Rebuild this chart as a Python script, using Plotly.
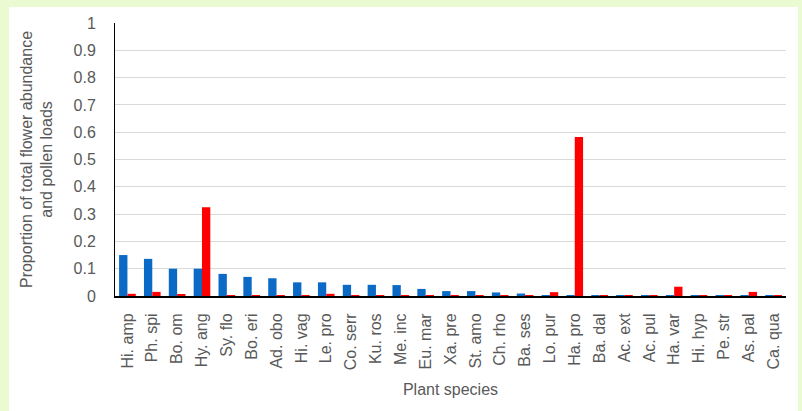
import plotly.graph_objects as go

species = ["Hi. amp", "Ph. spi", "Bo. om", "Hy. ang", "Sy. flo", "Bo. eri", "Ad. obo",
           "Hi. vag", "Le. pro", "Co. serr", "Ku. ros", "Me. inc", "Eu. mar", "Xa. pre",
           "St. amo", "Ch. rho", "Ba. ses", "Lo. pur", "Ha. pro", "Ba. dal", "Ac. ext",
           "Ac. pul", "Ha. var", "Hi. hyp", "Pe. str", "As. pal", "Ca. qua"]

flower_abundance = [0.150, 0.136, 0.100, 0.100, 0.081, 0.070, 0.065, 0.050, 0.050, 0.041,
                    0.041, 0.040, 0.026, 0.018, 0.018, 0.013, 0.009, 0.003, 0.003, 0.003,
                    0.002, 0.002, 0.002, 0.002, 0.002, 0.002, 0.002]

pollen_loads = [0.008, 0.015, 0.004, 0.325, 0.001, 0.001, 0.003, 0.001, 0.008, 0.002,
                0.001, 0.002, 0.002, 0.003, 0.002, 0.003, 0.001, 0.014, 0.582, 0.001,
                0.002, 0.003, 0.034, 0.002, 0.003, 0.015, 0.003]

yticks = [0, 0.1, 0.2, 0.3, 0.4, 0.5, 0.6, 0.7, 0.8, 0.9, 1]
ytick_text = ["0", "0.1", "0.2", "0.3", "0.4", "0.5", "0.6", "0.7", "0.8", "0.9", "1"]

fig = go.Figure()
fig.add_trace(go.Bar(x=species, y=flower_abundance, name="Flower abundance",
                     marker=dict(color="#0a6ac6", line=dict(width=0))))
fig.add_trace(go.Bar(x=species, y=pollen_loads, name="Pollen loads",
                     marker=dict(color="#ff0000", line=dict(width=0))))

W, H = 802, 411
L, R, T, B = 115, 16, 23, 115
pw, ph = W - L - R, H - T - B

def px(x):
    return (x - L) / pw

def py(y):
    return (H - B - y) / ph

green = "#eafbd2"
shapes = [
    dict(type="rect", xref="paper", yref="paper", x0=px(0), x1=px(9), y0=py(411), y1=py(0),
         fillcolor=green, line=dict(width=0), layer="below"),
    dict(type="rect", xref="paper", yref="paper", x0=px(0), x1=px(802), y0=py(7), y1=py(0),
         fillcolor=green, line=dict(width=0), layer="below"),
    dict(type="rect", xref="paper", yref="paper", x0=px(798), x1=px(802), y0=py(411), y1=py(0),
         fillcolor=green, line=dict(width=0), layer="below"),
]

font_family = "Liberation Sans, Arial, sans-serif"
fig.update_layout(
    width=W, height=H,
    margin=dict(l=L, r=R, t=T, b=B, pad=0),
    paper_bgcolor="white", plot_bgcolor="white",
    barmode="group", bargap=0.33, bargroupgap=0,
    showlegend=False,
    shapes=shapes,
    font=dict(family=font_family, color="#595959", size=16),
    xaxis=dict(
        tickangle=-90, tickfont=dict(size=16, color="#595959"),
        showline=True, linecolor="black", linewidth=2,
        showgrid=False, ticks="", ticklabelstandoff=9,
        title=dict(text="Plant species", font=dict(size=16, color="#595959"), standoff=14),
    ),
    yaxis=dict(
        range=[0, 1], tickvals=yticks, ticktext=ytick_text,
        tickfont=dict(size=16, color="#595959"),
        showline=True, linecolor="black", linewidth=1,
        showgrid=True, gridcolor="#d9d9d9", gridwidth=1,
        zeroline=False, ticks="", ticklabelstandoff=15,
        title=dict(text="Proportion of total flower abundance<br>and pollen loads",
                   font=dict(size=16, color="#595959"), standoff=16),
    ),
)

fig.write_html("out.html", config={"displayModeBar": False},
               post_script="document.body.style.margin='0';document.body.style.overflow='hidden';")
